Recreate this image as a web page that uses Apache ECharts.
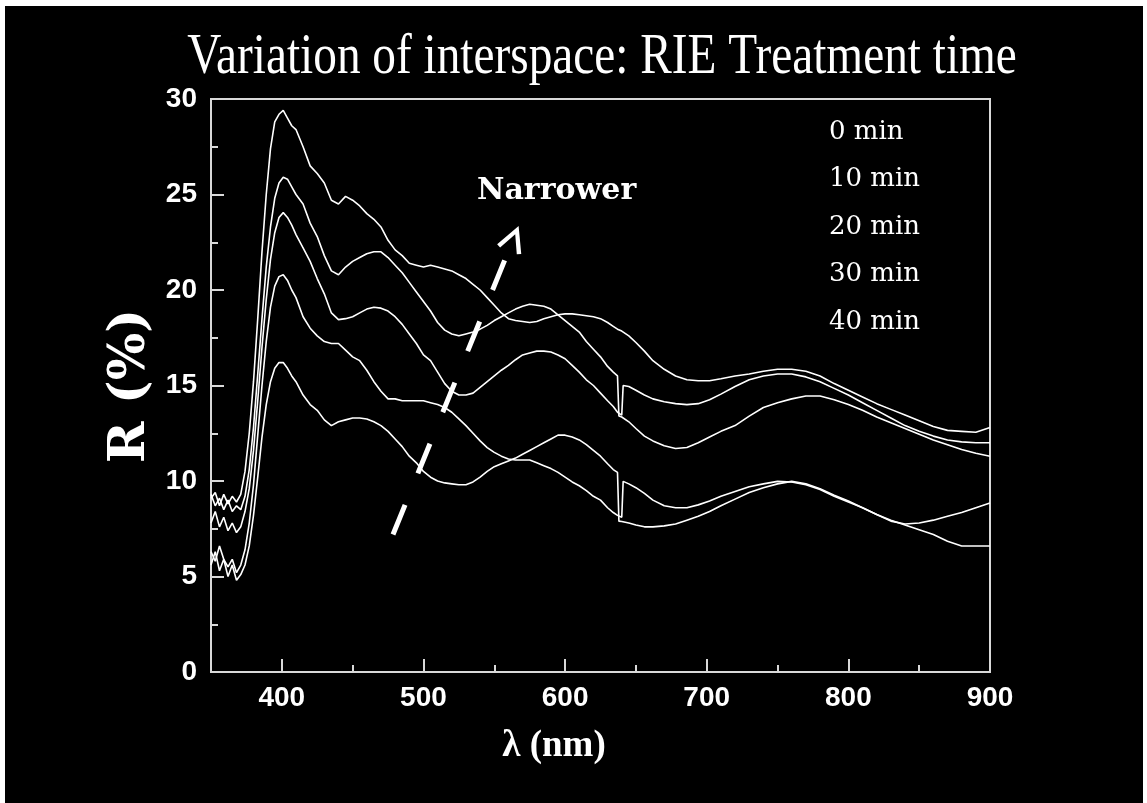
<!DOCTYPE html>
<html>
<head>
<meta charset="utf-8">
<title>Variation of interspace: RIE Treatment time</title>
<script src="https://cdn.jsdelivr.net/npm/echarts@6/dist/echarts.min.js"></script>
<style>
  html, body { margin: 0; padding: 0; background: #fff; }
  #chart { position: absolute; left: 5px; top: 6px; width: 1138px; height: 797px; }
</style>
</head>
<body>
<div id="chart"></div>
<script>
// wavelength grid (nm) shared by the five spectra
var wavelengths = [
  350, 353, 356, 359, 362, 365, 368, 371, 374, 377, 380, 383, 386, 389, 392, 395, 398, 401, 404, 407, 410,
  415, 420, 425, 430, 435, 440, 445, 450, 455, 460, 465, 470, 475, 480, 485, 490, 495, 500,
  505, 510, 515, 520, 525, 530, 535, 540, 545, 550, 555, 560, 565, 570, 575, 580, 585, 590, 595, 600,
  605, 610, 615, 620, 625, 630, 634, 637, 638, 640, 641, 645, 650, 656, 662, 670, 678, 686, 694, 702,
  710, 720, 730, 740, 750, 760, 770, 780, 790, 800, 810, 820, 830, 840, 850, 860, 870, 880, 890, 900
];

// reflectance R (%), one list per treatment time
var r0 = [
  9.1, 9.4, 8.7, 9.3, 8.8, 9.2, 8.9, 9.3, 10.5, 12.5, 15.2, 18.5, 22.0, 25.0, 27.4, 28.8, 29.2, 29.4, 29.0, 28.6, 28.4,
  27.5, 26.5, 26.1, 25.6, 24.7, 24.5, 24.9, 24.7, 24.4, 24.0, 23.7, 23.3, 22.6, 22.1, 21.8, 21.4, 21.3, 21.2,
  21.3, 21.2, 21.1, 21.0, 20.8, 20.6, 20.3, 20.0, 19.6, 19.2, 18.8, 18.5, 18.4, 18.35, 18.3, 18.35, 18.5, 18.6, 18.7, 18.75,
  18.75, 18.7, 18.65, 18.6, 18.5, 18.3, 18.1, 17.95, 17.9, 17.85, 17.8, 17.6, 17.25, 16.8, 16.3, 15.85, 15.5, 15.3, 15.25, 15.25,
  15.35, 15.5, 15.6, 15.75, 15.85, 15.85, 15.75, 15.5, 15.1, 14.75, 14.4, 14.05, 13.75, 13.45, 13.15, 12.85, 12.65, 12.6, 12.55, 12.8
];
var r10 = [
  9.3, 8.7, 9.1, 8.5, 9.0, 8.4, 8.7, 8.5, 9.2, 10.6, 12.8, 15.6, 18.5, 21.2, 23.3, 24.8, 25.6, 25.9, 25.8, 25.4, 25.0,
  24.5, 23.5, 22.8, 21.8, 21.0, 20.8, 21.2, 21.5, 21.7, 21.9, 22.0, 22.0, 21.7, 21.3, 20.9, 20.4, 19.9, 19.4,
  18.9, 18.3, 17.9, 17.7, 17.6, 17.7, 17.8, 17.95, 18.15, 18.4, 18.6, 18.8, 19.0, 19.15, 19.25, 19.2, 19.15, 19.0, 18.7, 18.4,
  18.1, 17.8, 17.3, 16.9, 16.5, 16.0, 15.7, 15.5, 13.4, 13.35, 13.3, 13.1, 12.75, 12.35, 12.1, 11.85, 11.7, 11.75, 12.0, 12.3,
  12.6, 12.9, 13.4, 13.85, 14.1, 14.3, 14.45, 14.45, 14.25, 14.0, 13.7, 13.35, 13.05, 12.75, 12.45, 12.15, 11.9, 11.65, 11.45, 11.3
];
var r20 = [
  7.8, 8.4, 7.6, 8.1, 7.4, 7.8, 7.3, 7.6, 8.4, 9.6, 11.6, 14.2, 17.0, 19.5, 21.6, 23.0, 23.8, 24.05, 23.8, 23.4, 22.9,
  22.2, 21.5, 20.6, 19.8, 18.8, 18.45, 18.5, 18.6, 18.8, 19.0, 19.1, 19.05, 18.9, 18.6, 18.2, 17.7, 17.2, 16.6,
  16.3, 15.7, 15.1, 14.7, 14.5, 14.5, 14.6, 14.9, 15.2, 15.5, 15.8, 16.05, 16.35, 16.6, 16.7, 16.8, 16.8, 16.75, 16.6, 16.4,
  16.05, 15.7, 15.3, 15.0, 14.6, 14.2, 13.9, 13.6, 13.5, 13.45, 15.0, 14.95, 14.75, 14.5, 14.3, 14.15, 14.05, 14.0, 14.05, 14.25,
  14.55, 14.95, 15.3, 15.5, 15.6, 15.6, 15.45, 15.2, 14.85, 14.5, 14.1, 13.7, 13.3, 12.9, 12.6, 12.35, 12.15, 12.05, 12.0, 12.0
];
var r30 = [
  6.3, 5.8, 6.6, 5.9, 5.5, 5.9, 5.2, 5.6, 6.4, 7.8, 9.8, 12.4, 15.0, 17.3, 19.1, 20.2, 20.7, 20.8, 20.5, 20.0, 19.6,
  18.6, 18.0, 17.6, 17.3, 17.2, 17.2, 16.85, 16.5, 16.3, 15.8, 15.2, 14.7, 14.3, 14.3, 14.2, 14.2, 14.2, 14.2,
  14.1, 14.0, 13.85, 13.6, 13.25, 12.9, 12.5, 12.1, 11.75, 11.5, 11.3, 11.15, 11.1, 11.1, 11.1, 10.95, 10.8, 10.65, 10.45, 10.2,
  9.95, 9.75, 9.5, 9.2, 9.0, 8.6, 8.35, 8.2, 8.15, 8.1, 9.98, 9.85, 9.65, 9.35, 9.0, 8.7, 8.6, 8.6, 8.75, 8.95,
  9.2, 9.45, 9.7, 9.85, 9.98, 9.95, 9.8, 9.55, 9.2, 8.9, 8.6, 8.25, 7.95, 7.7, 7.45, 7.2, 6.85, 6.6, 6.6, 6.6
];
var r40 = [
  5.6, 6.3, 5.3, 5.9, 5.0, 5.6, 4.8, 5.1, 5.6, 6.6, 8.2, 10.2, 12.3, 14.0, 15.2, 15.9, 16.2, 16.2, 15.9, 15.5, 15.2,
  14.5, 14.0, 13.7, 13.2, 12.9, 13.1, 13.2, 13.3, 13.3, 13.25, 13.1, 12.9, 12.6, 12.2, 11.8, 11.3, 10.95, 10.5,
  10.2, 10.0, 9.9, 9.85, 9.8, 9.8, 9.95, 10.2, 10.5, 10.75, 10.9, 11.05, 11.2, 11.4, 11.6, 11.8, 12.0, 12.2, 12.4, 12.4,
  12.3, 12.15, 11.9, 11.6, 11.3, 10.9, 10.6, 10.45, 7.9, 7.88, 7.85, 7.8, 7.7, 7.6, 7.6, 7.65, 7.75, 7.95, 8.15, 8.4,
  8.7, 9.05, 9.4, 9.65, 9.85, 9.98, 9.85, 9.6, 9.25, 8.95, 8.6, 8.25, 7.9, 7.75, 7.8, 7.95, 8.15, 8.35, 8.6, 8.85
];

var seriesNames = ['0 min', '10 min', '20 min', '30 min', '40 min'];
var seriesValues = [r0, r10, r20, r30, r40];

// ticks and labels
var xMajorTicks = [400, 500, 600, 700, 800, 900];
var xMinorTicks = [450, 550, 650, 750, 850];
var yMajorTicks = [0, 5, 10, 15, 20, 25, 30];
var yMinorTicks = [2.5, 7.5, 12.5, 17.5, 22.5, 27.5];

// "Narrower" arrow, start and end in (nm, %)
var arrowFrom = [478.5, 7.2];
var arrowTo = [563.6, 22.7];

var axisColor = '#d9d9d9';
var chevron = 'path://M0,0 L13,25 L9,27 L0,9 L-9,27 L-13,25 Z';
var labelFont = { color: '#fff', fontFamily: 'Liberation Sans', fontWeight: 'bold', fontSize: 28 };

function pairs(values) {
  return wavelengths.map(function (w, i) { return [w, values[i]]; });
}

// an axis that only carries inward ticks
function tickAxis(kind, ticks, len) {
  var a = {
    type: 'value',
    position: kind === 'x' ? 'bottom' : 'left',
    axisLine: { show: false },
    axisTick: { show: true, inside: true, length: len, customValues: ticks, lineStyle: { color: axisColor, width: 2 } },
    axisLabel: { show: false },
    splitLine: { show: false }
  };
  if (kind === 'x') { a.min = 350; a.max = 900; } else { a.min = 0; a.max = 30; }
  return a;
}

var series = seriesNames.map(function (name, i) {
  return {
    name: name,
    type: 'line',
    xAxisIndex: 0,
    yAxisIndex: 0,
    showSymbol: false,
    symbol: 'none',
    silent: true,
    lineStyle: { color: '#fff', width: 1.6 },
    itemStyle: { color: '#fff' },
    data: pairs(seriesValues[i])
  };
});

series[0].markLine = {
  silent: true,
  symbol: ['none', chevron],
  symbolSize: [26, 27],
  label: { show: false },
  lineStyle: { color: '#fff', width: 5, type: [32, 34], cap: 'butt' },
  data: [[{ coord: arrowFrom }, { coord: arrowTo }]]
};

var chart = echarts.init(document.getElementById('chart'));

chart.setOption({
  backgroundColor: '#000',
  animation: false,
  grid: {
    left: 206, right: 153, top: 93, bottom: 131,
    show: true, borderColor: axisColor, borderWidth: 2
  },
  legend: {
    data: seriesNames,
    orient: 'vertical',
    left: 819,
    top: 111,
    padding: 0,
    itemWidth: 0,
    itemHeight: 0,
    itemGap: 17.5,
    icon: 'rect',
    itemStyle: { opacity: 0 },
    lineStyle: { opacity: 0 },
    selectedMode: false,
    textStyle: { color: '#fff', fontFamily: 'DejaVu Serif', fontSize: 26, lineHeight: 30 }
  },
  xAxis: [{
    type: 'value',
    min: 350,
    max: 900,
    position: 'bottom',
    axisLine: { show: false },
    axisTick: { show: false },
    axisLabel: Object.assign({ customValues: xMajorTicks, margin: 12 }, labelFont),
    splitLine: { show: false }
  }, tickAxis('x', xMajorTicks, 13), tickAxis('x', xMinorTicks, 7)],
  yAxis: [{
    type: 'value',
    min: 0,
    max: 30,
    interval: 5,
    position: 'left',
    axisLine: { show: false },
    axisTick: { show: false },
    axisLabel: Object.assign({ margin: 14 }, labelFont),
    splitLine: { show: false }
  }, tickAxis('y', yMajorTicks, 13), tickAxis('y', yMinorTicks, 7)],
  graphic: [{
    type: 'text',
    x: 597,
    y: 52,
    scaleY: 1.2,
    silent: true,
    style: {
      text: 'Variation of interspace: RIE Treatment time',
      fill: '#fff', fontFamily: 'Liberation Serif', fontSize: 47.3,
      align: 'center', verticalAlign: 'middle', textAlign: 'center', textVerticalAlign: 'middle'
    }
  }, {
    type: 'text',
    x: 126,
    y: 380,
    rotation: Math.PI / 2,
    silent: true,
    style: {
      text: 'R (%)',
      fill: '#fff', fontFamily: 'DejaVu Serif', fontWeight: 'bold', fontSize: 50,
      align: 'center', verticalAlign: 'middle', textAlign: 'center', textVerticalAlign: 'middle'
    }
  }, {
    type: 'text',
    x: 549,
    y: 740,
    silent: true,
    style: {
      text: 'λ (nm)',
      fill: '#fff', fontFamily: 'Liberation Serif', fontWeight: 'bold', fontSize: 37,
      align: 'center', verticalAlign: 'middle', textAlign: 'center', textVerticalAlign: 'middle'
    }
  }, {
    type: 'text',
    x: 472,
    y: 185,
    silent: true,
    style: {
      text: 'Narrower',
      fill: '#fff', fontFamily: 'DejaVu Serif', fontWeight: 'bold', fontSize: 30,
      align: 'left', verticalAlign: 'middle', textAlign: 'left', textVerticalAlign: 'middle'
    }
  }],
  series: series
});
</script>
</body>
</html>
